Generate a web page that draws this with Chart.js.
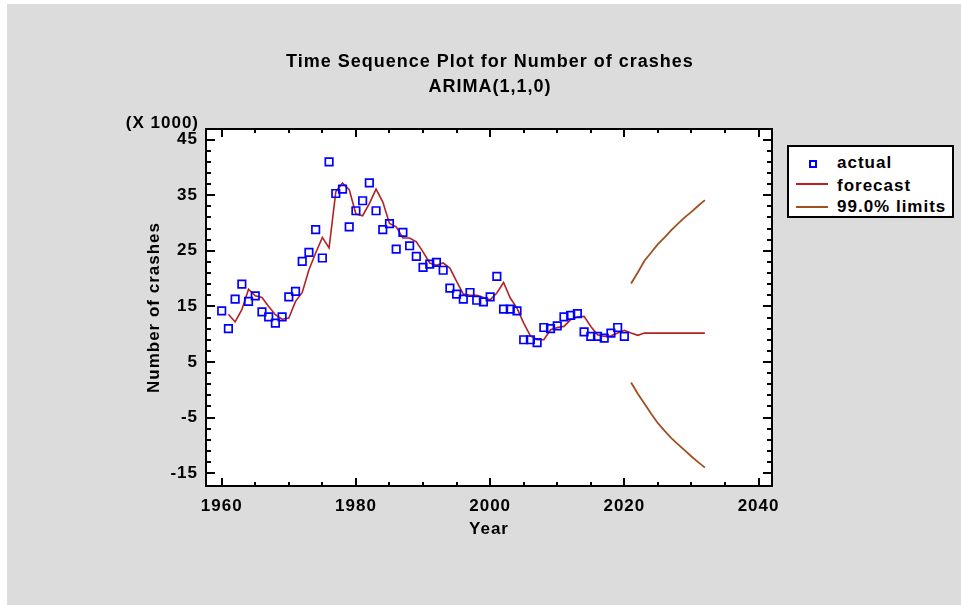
<!DOCTYPE html>
<html>
<head>
<meta charset="utf-8">
<script src="https://cdn.jsdelivr.net/npm/chart.js@4.4.1/dist/chart.umd.min.js"></script>
<style>
  html, body { margin: 0; padding: 0; background: #ffffff; }
  body { width: 961px; height: 605px; position: relative; overflow: hidden;
         font-family: "Liberation Sans", Arial, sans-serif; font-weight: bold; color: #000; }
  #panel { position: absolute; left: 7px; top: 4px; right: 0; bottom: 0; background: #dcdcdc; }
  #c { position: absolute; left: 0; top: 0; }
  .t { position: absolute; white-space: nowrap; letter-spacing: 1px; }
  #title { left: 190px; width: 600px; top: 49px; text-align: center; font-size: 18px; line-height: 25px; }
  #mult { left: 0; width: 199px; top: 113px; text-align: right; font-size: 17px; line-height: 20px; }
  #legend { position: absolute; left: 787px; top: 145px; width: 163px; height: 69px;
            border: 2px solid #000; background: #fff; }
  .lt { position: absolute; left: 48px; font-size: 17px; line-height: 20px; letter-spacing: 1px; white-space: nowrap; }
  .mk { position: absolute; left: 20px; top: 13px; width: 4px; height: 4px; border: 2px solid #0000ff; }
  .ln { position: absolute; left: 7px; width: 32px; height: 0; }
</style>
</head>
<body>
<div id="panel"></div>
<canvas id="c" width="961" height="605"></canvas>
<div class="t" id="title">Time Sequence Plot for Number of crashes<br>ARIMA(1,1,0)</div>
<div class="t" id="mult">(X 1000)</div>
<div id="legend">
  <div class="mk"></div>
  <div class="lt" style="top:6px">actual</div>
  <div class="ln" style="top:36px;border-top:2px solid #c02020"></div>
  <div class="lt" style="top:29px">forecast</div>
  <div class="ln" style="top:59px;border-top:2px solid #a0501e"></div>
  <div class="lt" style="top:50px">99.0% limits</div>
</div>
<script>
// ---- data (values in thousands of crashes) ----
const years = [1960,1961,1962,1963,1964,1965,1966,1967,1968,1969,
  1970,1971,1972,1973,1974,1975,1976,1977,1978,1979,
  1980,1981,1982,1983,1984,1985,1986,1987,1988,1989,
  1990,1991,1992,1993,1994,1995,1996,1997,1998,1999,
  2000,2001,2002,2003,2004,2005,2006,2007,2008,2009,
  2010,2011,2012,2013,2014,2015,2016,2017,2018,2019,
  2020];
const actual = [14.2, 11.0, 16.3, 19.0, 15.9, 16.9, 14.0, 13.1, 12.0, 13.1,
  16.7, 17.7, 23.1, 24.7, 28.8, 23.7, 41.0, 35.3, 36.1, 29.3,
  32.2, 34.0, 37.2, 32.2, 28.8, 29.9, 25.3, 28.3, 25.9, 24.0,
  22.0, 22.6, 22.9, 21.5, 18.3, 17.2, 16.3, 17.5, 16.1, 15.8,
  16.7, 20.4, 14.5, 14.5, 14.2, 9.0, 9.0, 8.5, 11.2, 11.0,
  11.5, 13.1, 13.4, 13.7, 10.4, 9.6, 9.6, 9.3, 10.2, 11.2,
  9.6];
const forecastYears = [1961,1962,1963,1964,1965,1966,1967,1968,1969,
  1970,1971,1972,1973,1974,1975,1976,1977,1978,1979,
  1980,1981,1982,1983,1984,1985,1986,1987,1988,1989,
  1990,1991,1992,1993,1994,1995,1996,1997,1998,1999,
  2000,2001,2002,2003,2004,2005,2006,2007,2008,2009,
  2010,2011,2012,2013,2014,2015,2016,2017,2018,2019,
  2020,2021,2022,2023,2024,2025,2026,2027,2028,2029,
  2030,2031,2032];
const forecast = [13.6, 12.2, 14.4, 18.1, 16.9, 16.6, 15.0, 13.5, 12.7,
  12.9, 15.9, 17.5, 21.6, 24.6, 27.4, 25.5, 35.6, 37.2, 36.0,
  31.6, 31.3, 33.5, 36.1, 33.8, 29.9, 29.3, 27.3, 27.3, 26.6,
  24.8, 22.8, 22.4, 22.8, 21.9, 19.5, 17.2, 17.0, 17.0, 16.6,
  16.2, 17.4, 19.3, 16.5, 14.7, 12.0, 9.7, 9.0, 9.0, 10.8,
  11.2, 11.4, 12.6, 13.1, 13.2, 11.4, 9.9, 9.6, 9.7, 10.2,
  10.7, 10.2, 9.8, 10.2, 10.2, 10.2, 10.2, 10.2, 10.2, 10.2,
  10.2, 10.2, 10.2];
const limitYears = [2021,2022,2023,2024,2025,2026,2027,2028,2029,2030,2031,2032];
const upperLimit = [19.1, 21.1, 23.2, 24.7, 26.2, 27.4, 28.7, 29.9, 31.0, 32.0, 33.1, 34.1];
const lowerLimit = [1.3, -0.7, -2.5, -4.3, -6.0, -7.4, -8.7, -9.8, -10.9, -12.0, -13.0, -14.0];
const xTicks = [1960, 1980, 2000, 2020, 2040];
const yTicks = [-15, -5, 5, 15, 25, 35, 45];
const xMinorTicks = [1965,1970,1975,1985,1990,1995,2005,2010,2015,2025,2030,2035];
const yMinorTicks = [-13,-11,-9,-7,-3,-1,1,3,7,9,11,13,17,19,21,23,27,29,31,33,37,39,41,43];

const pts = (xs, ys) => xs.map((x, i) => ({ x: x, y: ys[i] }));

const FONT = "'Liberation Sans', Arial, sans-serif";
const RED = '#b22222', BROWN = '#a0501e', BLUE = '#0000ff';

const framePlugin = {
  id: 'frame',
  beforeDraw(chart) {
    const ctx = chart.ctx, a = chart.chartArea;
    ctx.letterSpacing = '1px';
    ctx.save();
    ctx.fillStyle = '#ffffff';
    ctx.fillRect(a.left, a.top, a.right - a.left, a.bottom - a.top);
    ctx.restore();
  },
  afterDraw(chart) {
    const ctx = chart.ctx, a = chart.chartArea;
    const xs = chart.scales.x, ys = chart.scales.y;
    ctx.save();
    ctx.strokeStyle = '#000';
    ctx.lineWidth = 2;
    ctx.strokeRect(a.left, a.top, a.right - a.left, a.bottom - a.top);
    const tick = (vals, len) => {
      vals.forEach(v => {
        const px = Math.round(xs.getPixelForValue(v));
        ctx.beginPath();
        ctx.moveTo(px, a.bottom); ctx.lineTo(px, a.bottom - len);
        ctx.moveTo(px, a.top); ctx.lineTo(px, a.top + len);
        ctx.stroke();
      });
    };
    const ytick = (vals, len) => {
      vals.forEach(v => {
        const py = Math.round(ys.getPixelForValue(v));
        ctx.beginPath();
        ctx.moveTo(a.left, py); ctx.lineTo(a.left + len, py);
        ctx.moveTo(a.right, py); ctx.lineTo(a.right - len, py);
        ctx.stroke();
      });
    };
    tick(xTicks, 8); tick(xMinorTicks, 4);
    ytick(yTicks, 9); ytick(yMinorTicks, 5);
    ctx.restore();
  }
};

new Chart(document.getElementById('c'), {
  type: 'line',
  data: {
    datasets: [
      { label: 'actual', data: pts(years, actual), showLine: false,
        pointStyle: 'rect', pointRadius: 5.3, pointBorderWidth: 1.7,
        pointBorderColor: BLUE, pointBackgroundColor: 'rgba(0,0,0,0)', borderColor: BLUE, order: 0 },
      { label: 'forecast', data: pts(forecastYears, forecast), borderColor: RED,
        borderWidth: 1.6, pointRadius: 0, tension: 0, fill: false, order: 1 },
      { label: 'upper', data: pts(limitYears, upperLimit), borderColor: BROWN,
        borderWidth: 1.8, pointRadius: 0, tension: 0, fill: false, order: 2 },
      { label: 'lower', data: pts(limitYears, lowerLimit), borderColor: BROWN,
        borderWidth: 1.8, pointRadius: 0, tension: 0, fill: false, order: 2 }
    ]
  },
  options: {
    responsive: false,
    animation: false,
    events: [],
    layout: { padding: { top: 129, right: 189, left: 0, bottom: 0 } },
    plugins: { legend: { display: false }, tooltip: { enabled: false }, title: { display: false } },
    scales: {
      x: {
        type: 'linear', min: 1957.66, max: 2042.0,
        afterBuildTicks: s => { s.ticks = xTicks.map(v => ({ value: v })); },
        afterFit: s => { s.height = 119; },
        grid: { display: false, drawTicks: false },
        border: { display: false },
        ticks: { color: '#000', padding: 10, maxRotation: 0, autoSkip: false,
                 callback: v => String(v),
                 font: { family: FONT, size: 17, weight: 'bold' } },
        title: { display: true, text: 'Year', color: '#000',
                 font: { family: FONT, size: 17, weight: 'bold' }, padding: { top: 0, bottom: 65 } }
      },
      y: {
        type: 'linear', min: -17.3, max: 46.9,
        afterBuildTicks: s => { s.ticks = yTicks.map(v => ({ value: v })); },
        afterFit: s => { s.width = 206; },
        grid: { display: false, drawTicks: false },
        border: { display: false },
        ticks: { color: '#000', padding: 8, autoSkip: false,
                 callback: v => String(v),
                 font: { family: FONT, size: 17, weight: 'bold' } },
        title: { display: true, text: 'Number of crashes', color: '#000',
                 font: { family: FONT, size: 17, weight: 'bold' }, padding: { top: 144, bottom: 0 } }
      }
    }
  },
  plugins: [framePlugin]
});
</script>
</body>
</html>
